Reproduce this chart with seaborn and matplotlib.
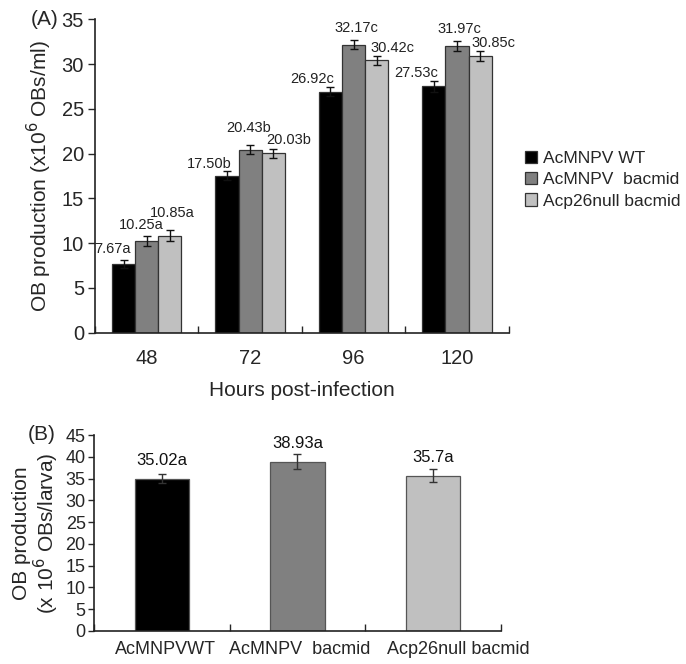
import pandas as pd
import seaborn as sns
import matplotlib.pyplot as plt
from matplotlib.transforms import ScaledTranslation

# panel A data
hours = ["48", "72", "96", "120"]
viruses = ["AcMNPV WT", "AcMNPV  bacmid", "Acp26null bacmid"]
ob_wt = [7.67, 17.50, 26.92, 27.53]
ob_bac = [10.25, 20.43, 32.17, 31.97]
ob_null = [10.85, 20.03, 30.42, 30.85]
err_wt = [0.5, 0.5, 0.5, 0.6]
err_bac = [0.6, 0.5, 0.5, 0.55]
err_null = [0.6, 0.5, 0.5, 0.55]
letters_a = [["a", "b", "c", "c"], ["a", "b", "c", "c"], ["a", "b", "c", "c"]]

# panel B data
larva_labels = ["AcMNPVWT", "AcMNPV  bacmid", "Acp26null bacmid"]
larva_ob = [35.02, 38.93, 35.70]
larva_err = [1.0, 1.7, 1.5]
larva_text = ["35.02a", "38.93a", "35.7a"]

colors = ["#000000", "#808080", "#c0c0c0"]

# where the value labels sit, in points from the top of each error bar
label_dx = [[-8, -13, -13, -13], [-4, -1, 2, 2], [2, 11, 11.5, 10]]
label_dy = [[4.5, 2.5, 3, 2.5], [4.5, 9.5, 6, 6], [9.5, 3.5, 2.5, 3]]

sns.set_style("ticks")
plt.rcParams["font.family"] = ["Liberation Sans", "DejaVu Sans"]

fig = plt.figure(figsize=(6.86, 6.64), dpi=100)
axA = fig.add_axes([0.1385, 0.499, 0.603, 0.472])
axB = fig.add_axes([0.137, 0.0497, 0.593, 0.295])

dfA = pd.DataFrame({
    "hours": hours * 3,
    "virus": [v for v in viruses for _ in hours],
    "ob": ob_wt + ob_bac + ob_null,
})
sns.barplot(data=dfA, x="hours", y="ob", hue="virus", order=hours, hue_order=viruses,
            palette=colors, width=0.67, errorbar=None, edgecolor="#333333",
            linewidth=0.9, ax=axA)

errs = [err_wt, err_bac, err_null]
vals = [ob_wt, ob_bac, ob_null]
bar_groups = list(axA.containers)
for i, cont in enumerate(bar_groups):
    for j, bar in enumerate(cont.patches):
        xc = bar.get_x() + bar.get_width() / 2
        axA.errorbar(xc, vals[i][j], yerr=errs[i][j], color="#111111", capsize=3,
                     elinewidth=1, capthick=1, fmt="none")
        axA.annotate(f"{vals[i][j]:.2f}{letters_a[i][j]}",
                     (xc, vals[i][j] + errs[i][j]),
                     xytext=(label_dx[i][j], label_dy[i][j]), textcoords="offset points",
                     ha="center", va="baseline", fontsize=10.5, color="#222222")

axA.set_ylim(0, 35)
axA.set_yticks(range(0, 36, 5))
axA.set_xlim(-0.5, 3.5)
axA.set_xticks([-0.5, 0.5, 1.5, 2.5, 3.5])
axA.set_xticklabels([])
axA.set_xticks(range(4), minor=True)
axA.set_xticklabels(hours, minor=True)
axA.tick_params(axis="x", which="minor", length=0, pad=12, labelsize=14.5)
axA.tick_params(axis="x", which="major", length=5, width=1, direction="in")
axA.tick_params(axis="y", length=5, width=1, labelsize=14.5, pad=3)
axA.set_xlabel("Hours post-infection", fontsize=15, labelpad=9)
axA.set_ylabel("OB production (x10$^6$ OBs/ml)", fontsize=15)
axA.yaxis.set_label_coords(-0.099, 0.5)
sns.despine(ax=axA)
for s in ["left", "bottom"]:
    axA.spines[s].set_color("#222222")
    axA.spines[s].set_linewidth(1.2)

axA.legend(loc="upper left", bbox_to_anchor=(0.755, 0.783), bbox_transform=fig.transFigure,
           frameon=False, fontsize=12.5, handlelength=0.7, handleheight=0.7,
           handletextpad=0.35, labelspacing=0.35, borderaxespad=0)

# panel B
dfB = pd.DataFrame({"virus": larva_labels, "ob": larva_ob})
sns.barplot(data=dfB, x="virus", y="ob", hue="virus", palette=colors, width=0.4,
            errorbar=None, edgecolor="#555555", linewidth=0.9, legend=False, ax=axB)
bar_groups_b = list(axB.containers)
for i, cont in enumerate(bar_groups_b):
    for bar in cont.patches:
        xc = bar.get_x() + bar.get_width() / 2
        axB.errorbar(xc, larva_ob[i], yerr=larva_err[i], color="#333333", capsize=3,
                     elinewidth=1, capthick=1, fmt="none")
        axB.text(xc, larva_ob[i] + 3.2, larva_text[i], ha="center",
                 va="baseline", fontsize=12, color="#111111")

axB.set_ylim(0, 45)
axB.set_yticks(range(0, 46, 5))
axB.set_xlim(-0.5, 2.5)
axB.set_xticks([-0.5, 0.5, 1.5, 2.5])
axB.set_xticklabels([])
axB.set_xticks(range(3), minor=True)
axB.set_xticklabels(larva_labels, minor=True)
axB.tick_params(axis="x", which="minor", length=0, pad=7, labelsize=13)
axB.tick_params(axis="x", which="major", length=5, width=1, direction="in")
axB.tick_params(axis="y", length=4, width=1, labelsize=13, pad=2)
# nudge the category labels a little apart, as in the original
nudges = [0.04, 0.02, 0.25]
for lab, dx in zip(axB.xaxis.get_minorticklabels(), nudges):
    lab.set_transform(lab.get_transform() + ScaledTranslation(dx, 0, fig.dpi_scale_trans))
axB.set_xlabel("")
axB.set_ylabel("OB production\n(x 10$^6$ OBs/larva)", fontsize=15, linespacing=1.0)
axB.yaxis.set_label_coords(-0.082, 0.5)
sns.despine(ax=axB)
for s in ["left", "bottom"]:
    axB.spines[s].set_color("#222222")
    axB.spines[s].set_linewidth(1.2)

fig.text(0.045, 0.971, "(A)", fontsize=15, va="center", ha="left")
fig.text(0.040, 0.345, "(B)", fontsize=15, va="center", ha="left")

fig.savefig("out.png", dpi=100)
